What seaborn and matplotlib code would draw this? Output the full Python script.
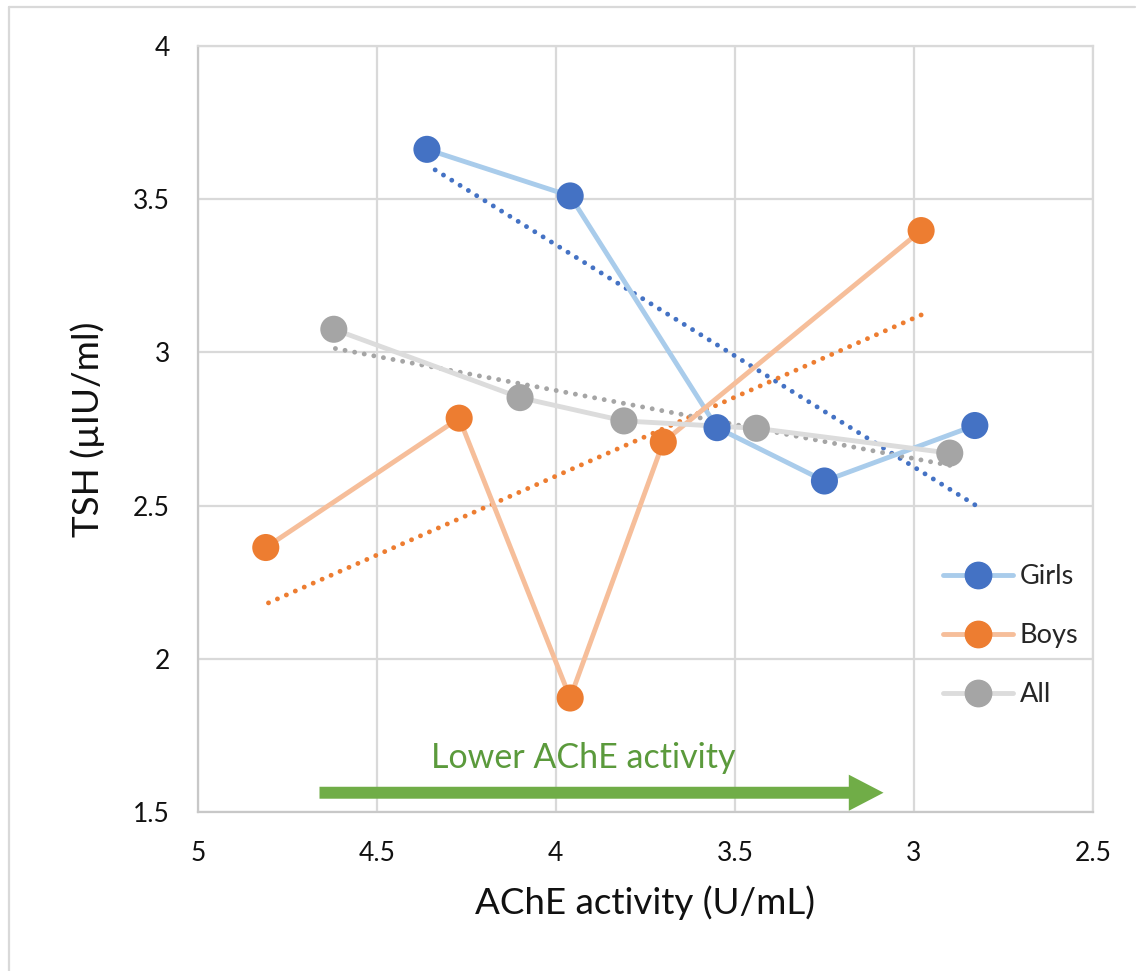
import numpy as np
import pandas as pd
import matplotlib.pyplot as plt
import seaborn as sns
from matplotlib.lines import Line2D

# values
girls_x = [4.36, 3.96, 3.55, 3.25, 2.83]
girls_y = [3.662, 3.510, 2.754, 2.580, 2.761]
boys_x = [4.81, 4.27, 3.96, 3.70, 2.98]
boys_y = [2.363, 2.785, 1.872, 2.707, 3.397]
all_x = [4.62, 4.10, 3.81, 3.44, 2.90]
all_y = [3.075, 2.852, 2.776, 2.752, 2.671]

group_names = ["Girls", "Boys", "All"]
x_ticks = [5, 4.5, 4, 3.5, 3, 2.5]
y_ticks = [1.5, 2, 2.5, 3, 3.5, 4]
x_tick_labels = ["5", "4.5", "4", "3.5", "3", "2.5"]
y_tick_labels = ["1.5", "2", "2.5", "3", "3.5", "4"]

arrow_from = (4.66, 1.563)
arrow_to = (3.085, 1.563)
arrow_text = "Lower AChE activity"
arrow_text_pos = (3.923, 1.644)

# marker colour, pale connecting-line colour
colors = {"Girls": ("#4472C4", "#A9CCEB"),
          "Boys": ("#ED7D31", "#F6BE9A"),
          "All": ("#A5A5A5", "#DCDCDC")}

df = pd.concat([
    pd.DataFrame({"x": girls_x, "y": girls_y, "group": "Girls"}),
    pd.DataFrame({"x": boys_x, "y": boys_y, "group": "Boys"}),
    pd.DataFrame({"x": all_x, "y": all_y, "group": "All"}),
])

sns.set_theme(style="white")
plt.rcParams["font.family"] = ["Lato", "DejaVu Sans"]

fig = plt.figure(figsize=(11.45, 9.71), dpi=100)
ax = fig.add_axes([0.1727, 0.1637, 0.7819, 0.7892])

grid_c = "#D9D9D9"
ax.set_xlim(5, 2.5)
ax.set_ylim(1.5, 4)
ax.set_xticks(x_ticks)
ax.set_xticklabels(x_tick_labels)
ax.set_yticks(y_ticks)
ax.set_yticklabels(y_tick_labels)
ax.grid(True, color=grid_c, lw=1.6)
ax.set_axisbelow(True)
for side, sp in ax.spines.items():
    sp.set_color("#C8C8C8" if side in ("left", "bottom") else grid_c)
    sp.set_linewidth(1.6)
ax.tick_params(axis="both", length=0, labelsize=19, colors="#111111")
ax.tick_params(axis="x", pad=21)
ax.tick_params(axis="y", pad=20)

# linear trend lines (dotted)
for name in group_names:
    sub = df[df["group"] == name]
    sns.regplot(data=sub, x="x", y="y", ax=ax, scatter=False, ci=None,
                line_kws=dict(color=colors[name][0], lw=3.5,
                              ls=(0, (0.01, 2.0)), dash_capstyle="round"))

# connecting lines and markers
for name in group_names:
    sub = df[df["group"] == name]
    sns.lineplot(data=sub, x="x", y="y", ax=ax, sort=False,
                 color=colors[name][1], lw=3.5, legend=False)
    sns.scatterplot(data=sub, x="x", y="y", ax=ax, color=colors[name][0],
                    s=380, edgecolor="none", legend=False, zorder=5)

ax.set_xlim(5, 2.5)
ax.set_ylim(1.5, 4)
ax.set_xlabel("AChE activity (U/mL)", fontsize=26.5, labelpad=14, color="#111111")
ax.set_ylabel("TSH (\u00b5IU/ml)", fontsize=26.5, labelpad=20, color="#111111")

# green arrow with caption
ax.annotate("", xy=arrow_to, xytext=arrow_from,
            arrowprops=dict(arrowstyle="simple,head_width=26,head_length=25,tail_width=8.6",
                            mutation_scale=1, color="#70AD47", shrinkA=0, shrinkB=0,
                            lw=0))
ax.text(arrow_text_pos[0], arrow_text_pos[1], arrow_text, color="#5B9A3C",
        fontsize=24.5, ha="center", va="baseline")

handles = [Line2D([0], [0], color=colors[n][1], lw=3.5, marker="o",
                  markersize=19, markerfacecolor=colors[n][0],
                  markeredgecolor=colors[n][0]) for n in group_names]
ax.legend(handles, group_names, loc="center left", bbox_to_anchor=(0.832, 0.23),
          frameon=False, fontsize=19.5, handlelength=2.6, handletextpad=0.25,
          labelspacing=1.25, borderpad=0, borderaxespad=0)

# partial chart border (top and left edges visible in the reference)
fig.add_artist(Line2D([9 / 1145, 1135 / 1145], [1 - 7 / 971, 1 - 7 / 971],
                      color="#D9D9D9", lw=1.6, transform=fig.transFigure))
fig.add_artist(Line2D([9 / 1145, 9 / 1145], [0, 1 - 7 / 971],
                      color="#D9D9D9", lw=1.6, transform=fig.transFigure))

fig.savefig("out.png", dpi=100, facecolor="white")
